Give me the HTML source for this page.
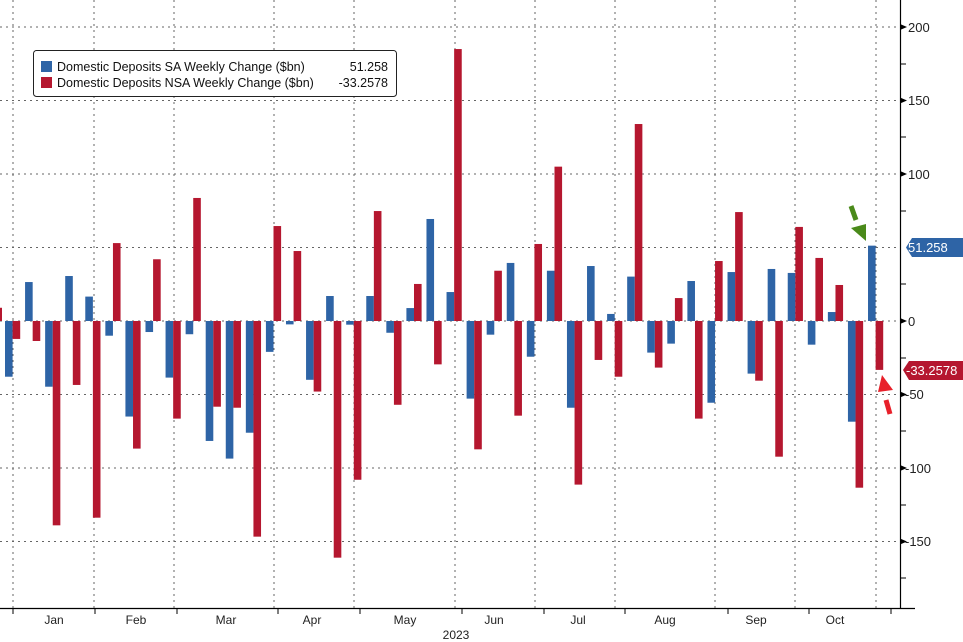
<!DOCTYPE html>
<html><head><meta charset="utf-8"><style>
html,body{margin:0;padding:0;background:#fff;}
svg{display:block;font-family:"Liberation Sans",sans-serif;}
.b{fill:#2e64a6}.r{fill:#b5172f}
.g{stroke:#666;stroke-width:1;stroke-dasharray:2,4}
.t{font-size:13px;fill:#222}
</style></head><body>
<svg width="963" height="642" viewBox="0 0 963 642">
<g class="g">
<line x1="0" y1="27" x2="900" y2="27"/><line x1="0" y1="100.5" x2="900" y2="100.5"/>
<line x1="0" y1="174" x2="900" y2="174"/><line x1="0" y1="247.5" x2="900" y2="247.5"/>
<line x1="0" y1="321" x2="900" y2="321"/><line x1="0" y1="394.5" x2="900" y2="394.5"/>
<line x1="0" y1="468" x2="900" y2="468"/><line x1="0" y1="541.5" x2="900" y2="541.5"/>
<line x1="13" y1="0" x2="13" y2="608"/><line x1="94" y1="0" x2="94" y2="608"/>
<line x1="174" y1="0" x2="174" y2="608"/><line x1="274" y1="0" x2="274" y2="608"/>
<line x1="354" y1="0" x2="354" y2="608"/><line x1="455" y1="0" x2="455" y2="608"/>
<line x1="535" y1="0" x2="535" y2="608"/><line x1="615" y1="0" x2="615" y2="608"/>
<line x1="715" y1="0" x2="715" y2="608"/><line x1="795" y1="0" x2="795" y2="608"/>
<line x1="876" y1="0" x2="876" y2="608"/>
</g>
<g transform="translate(0,321) scale(1,-1.47)">
<rect class="r" x="0" y="0" width="2" height="9"/>
<g transform="translate(5)"><rect class="b" y="-37.9" width="7.6" height="37.9"/><rect class="r" x="7.6" y="-12.2" width="7.6" height="12.2"/></g>
<g transform="translate(25.07)"><rect class="b" y="0" width="7.6" height="26.5"/><rect class="r" x="7.6" y="-13.6" width="7.6" height="13.6"/></g>
<g transform="translate(45.14)"><rect class="b" y="-44.7" width="7.6" height="44.7"/><rect class="r" x="7.6" y="-139" width="7.6" height="139"/></g>
<g transform="translate(65.21)"><rect class="b" y="0" width="7.6" height="30.6"/><rect class="r" x="7.6" y="-43.5" width="7.6" height="43.5"/></g>
<g transform="translate(85.28)"><rect class="b" y="0" width="7.6" height="16.6"/><rect class="r" x="7.6" y="-133.8" width="7.6" height="133.8"/></g>
<g transform="translate(105.35)"><rect class="b" y="-10" width="7.6" height="10"/><rect class="r" x="7.6" y="0" width="7.6" height="53"/></g>
<g transform="translate(125.42)"><rect class="b" y="-65" width="7.6" height="65"/><rect class="r" x="7.6" y="-86.8" width="7.6" height="86.8"/></g>
<g transform="translate(145.49)"><rect class="b" y="-7.5" width="7.6" height="7.5"/><rect class="r" x="7.6" y="0" width="7.6" height="42"/></g>
<g transform="translate(165.56)"><rect class="b" y="-38.5" width="7.6" height="38.5"/><rect class="r" x="7.6" y="-66.4" width="7.6" height="66.4"/></g>
<g transform="translate(185.63)"><rect class="b" y="-9" width="7.6" height="9"/><rect class="r" x="7.6" y="0" width="7.6" height="83.7"/></g>
<g transform="translate(205.7)"><rect class="b" y="-81.6" width="7.6" height="81.6"/><rect class="r" x="7.6" y="-58.3" width="7.6" height="58.3"/></g>
<g transform="translate(225.77)"><rect class="b" y="-93.6" width="7.6" height="93.6"/><rect class="r" x="7.6" y="-59" width="7.6" height="59"/></g>
<g transform="translate(245.84)"><rect class="b" y="-76" width="7.6" height="76"/><rect class="r" x="7.6" y="-146.7" width="7.6" height="146.7"/></g>
<g transform="translate(265.91)"><rect class="b" y="-21" width="7.6" height="21"/><rect class="r" x="7.6" y="0" width="7.6" height="64.6"/></g>
<g transform="translate(285.98)"><rect class="b" y="-2.3" width="7.6" height="2.3"/><rect class="r" x="7.6" y="0" width="7.6" height="47.6"/></g>
<g transform="translate(306.05)"><rect class="b" y="-40" width="7.6" height="40"/><rect class="r" x="7.6" y="-48" width="7.6" height="48"/></g>
<g transform="translate(326.12)"><rect class="b" y="0" width="7.6" height="17"/><rect class="r" x="7.6" y="-161" width="7.6" height="161"/></g>
<g transform="translate(346.19)"><rect class="b" y="-2.5" width="7.6" height="2.5"/><rect class="r" x="7.6" y="-108" width="7.6" height="108"/></g>
<g transform="translate(366.26)"><rect class="b" y="0" width="7.6" height="17"/><rect class="r" x="7.6" y="0" width="7.6" height="74.8"/></g>
<g transform="translate(386.33)"><rect class="b" y="-8" width="7.6" height="8"/><rect class="r" x="7.6" y="-57" width="7.6" height="57"/></g>
<g transform="translate(406.4)"><rect class="b" y="0" width="7.6" height="8.8"/><rect class="r" x="7.6" y="0" width="7.6" height="25.2"/></g>
<g transform="translate(426.47)"><rect class="b" y="0" width="7.6" height="69.4"/><rect class="r" x="7.6" y="-29.5" width="7.6" height="29.5"/></g>
<g transform="translate(446.54)"><rect class="b" y="0" width="7.6" height="19.7"/><rect class="r" x="7.6" y="0" width="7.6" height="185"/></g>
<g transform="translate(466.61)"><rect class="b" y="-52.8" width="7.6" height="52.8"/><rect class="r" x="7.6" y="-87.3" width="7.6" height="87.3"/></g>
<g transform="translate(486.68)"><rect class="b" y="-9.3" width="7.6" height="9.3"/><rect class="r" x="7.6" y="0" width="7.6" height="34.2"/></g>
<g transform="translate(506.75)"><rect class="b" y="0" width="7.6" height="39.5"/><rect class="r" x="7.6" y="-64.4" width="7.6" height="64.4"/></g>
<g transform="translate(526.82)"><rect class="b" y="-24.3" width="7.6" height="24.3"/><rect class="r" x="7.6" y="0" width="7.6" height="52.4"/></g>
<g transform="translate(546.89)"><rect class="b" y="0" width="7.6" height="34.2"/><rect class="r" x="7.6" y="0" width="7.6" height="105"/></g>
<g transform="translate(566.96)"><rect class="b" y="-59" width="7.6" height="59"/><rect class="r" x="7.6" y="-111.3" width="7.6" height="111.3"/></g>
<g transform="translate(587.03)"><rect class="b" y="0" width="7.6" height="37.4"/><rect class="r" x="7.6" y="-26.5" width="7.6" height="26.5"/></g>
<g transform="translate(607.1)"><rect class="b" y="0" width="7.6" height="4.8"/><rect class="r" x="7.6" y="-37.9" width="7.6" height="37.9"/></g>
<g transform="translate(627.17)"><rect class="b" y="0" width="7.6" height="30.2"/><rect class="r" x="7.6" y="0" width="7.6" height="134"/></g>
<g transform="translate(647.24)"><rect class="b" y="-21.5" width="7.6" height="21.5"/><rect class="r" x="7.6" y="-31.7" width="7.6" height="31.7"/></g>
<g transform="translate(667.31)"><rect class="b" y="-15.4" width="7.6" height="15.4"/><rect class="r" x="7.6" y="0" width="7.6" height="15.6"/></g>
<g transform="translate(687.38)"><rect class="b" y="0" width="7.6" height="27.2"/><rect class="r" x="7.6" y="-66.4" width="7.6" height="66.4"/></g>
<g transform="translate(707.45)"><rect class="b" y="-55.6" width="7.6" height="55.6"/><rect class="r" x="7.6" y="0" width="7.6" height="40.8"/></g>
<g transform="translate(727.52)"><rect class="b" y="0" width="7.6" height="33.3"/><rect class="r" x="7.6" y="0" width="7.6" height="74.1"/></g>
<g transform="translate(747.59)"><rect class="b" y="-35.8" width="7.6" height="35.8"/><rect class="r" x="7.6" y="-40.6" width="7.6" height="40.6"/></g>
<g transform="translate(767.66)"><rect class="b" y="0" width="7.6" height="35.4"/><rect class="r" x="7.6" y="-92.3" width="7.6" height="92.3"/></g>
<g transform="translate(787.73)"><rect class="b" y="0" width="7.6" height="32.7"/><rect class="r" x="7.6" y="0" width="7.6" height="64"/></g>
<g transform="translate(807.8)"><rect class="b" y="-16.1" width="7.6" height="16.1"/><rect class="r" x="7.6" y="0" width="7.6" height="42.9"/></g>
<g transform="translate(827.87)"><rect class="b" y="0" width="7.6" height="6.1"/><rect class="r" x="7.6" y="0" width="7.6" height="24.5"/></g>
<g transform="translate(847.94)"><rect class="b" y="-68.5" width="7.6" height="68.5"/><rect class="r" x="7.6" y="-113.4" width="7.6" height="113.4"/></g>
<g transform="translate(868.01)"><rect class="b" y="0" width="7.6" height="51.258"/><rect class="r" x="7.6" y="-33.26" width="7.6" height="33.26"/></g>
</g>
<!-- right axis -->
<line x1="900.5" y1="0" x2="900.5" y2="608" stroke="#000" stroke-width="1.2"/>
<line x1="0" y1="608.5" x2="915" y2="608.5" stroke="#000" stroke-width="1.2"/>
<g stroke="#000">
<line x1="900" y1="64" x2="906" y2="64"/><line x1="900" y1="137" x2="906" y2="137"/>
<line x1="900" y1="211" x2="906" y2="211"/><line x1="900" y1="284" x2="906" y2="284"/>
<line x1="900" y1="358" x2="906" y2="358"/><line x1="900" y1="431" x2="906" y2="431"/>
<line x1="900" y1="505" x2="906" y2="505"/><line x1="900" y1="578" x2="906" y2="578"/>
</g>
<g fill="#000">
<path d="M900 24 L907 27 L900 30Z"/><path d="M900 97.5 L907 100.5 L900 103.5Z"/>
<path d="M900 171 L907 174 L900 177Z"/><path d="M900 318 L907 321 L900 324Z"/>
<path d="M900 391.5 L907 394.5 L900 397.5Z"/><path d="M900 465 L907 468 L900 471Z"/>
<path d="M900 538.5 L907 541.5 L900 544.5Z"/>
</g>
<g class="t">
<text x="908" y="32">200</text><text x="908" y="105">150</text><text x="908" y="179">100</text>
<text x="908" y="326">0</text><text x="905" y="399">-50</text><text x="905" y="473">-100</text><text x="905" y="546">-150</text>
</g>
<!-- value tags -->
<path d="M906 247.5 L912 238 L963 238 L963 257 L912 257Z" fill="#2e64a6"/>
<text x="908" y="252" style="font-size:13px;fill:#fff">51.258</text>
<path d="M903 370 L909 361 L963 361 L963 380 L909 380Z" fill="#b5172f"/>
<text x="906" y="375" style="font-size:13px;fill:#fff">-33.2578</text>
<!-- arrows -->
<line x1="851" y1="206" x2="856" y2="220" stroke="#4a8a1a" stroke-width="5"/>
<path d="M851 228 L866 224 L866 241Z" fill="#4a8a1a"/>
<line x1="886" y1="400" x2="890" y2="414" stroke="#e8202a" stroke-width="5"/>
<path d="M878 392 L893 390 L882 375Z" fill="#e8202a"/>
<!-- x axis ticks -->
<g stroke="#000">
<line x1="13" y1="608" x2="13" y2="614"/><line x1="95" y1="608" x2="95" y2="614"/>
<line x1="177" y1="608" x2="177" y2="614"/><line x1="278" y1="608" x2="278" y2="614"/>
<line x1="360" y1="608" x2="360" y2="614"/><line x1="462" y1="608" x2="462" y2="614"/>
<line x1="544" y1="608" x2="544" y2="614"/><line x1="625" y1="608" x2="625" y2="614"/>
<line x1="728" y1="608" x2="728" y2="614"/><line x1="809" y1="608" x2="809" y2="614"/>
<line x1="891" y1="608" x2="891" y2="614"/>
</g>
<g class="t" text-anchor="middle" style="font-size:12px">
<text x="54" y="624">Jan</text><text x="136" y="624">Feb</text><text x="226" y="624">Mar</text>
<text x="312" y="624">Apr</text><text x="405" y="624">May</text><text x="494" y="624">Jun</text>
<text x="578" y="624">Jul</text><text x="665" y="624">Aug</text><text x="756" y="624">Sep</text>
<text x="835" y="624">Oct</text><text x="456" y="639">2023</text>
</g>
<!-- legend -->
<rect x="33.5" y="50.5" width="363" height="46" rx="3" fill="#fff" stroke="#222"/>
<rect x="41" y="61" width="11" height="11" fill="#2e64a6"/>
<rect x="41" y="77" width="11" height="11" fill="#b5172f"/>
<g style="font-size:12.5px;fill:#111">
<text x="57" y="71">Domestic Deposits SA Weekly Change ($bn)</text>
<text x="57" y="87">Domestic Deposits NSA Weekly Change ($bn)</text>
<text x="388" y="71" text-anchor="end">51.258</text>
<text x="388" y="87" text-anchor="end">-33.2578</text>
</g>
</svg>
</body></html>
